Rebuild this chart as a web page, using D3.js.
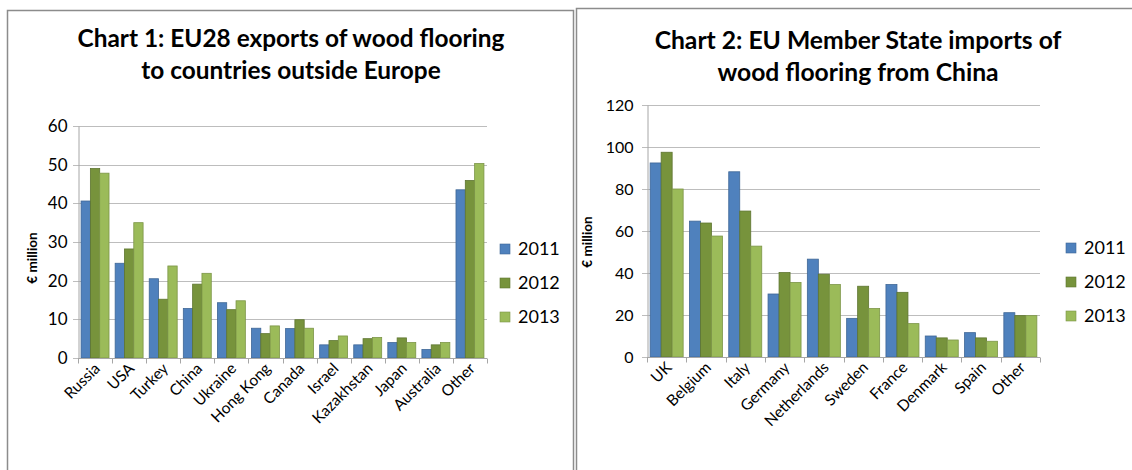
<!DOCTYPE html>
<html><head><meta charset="utf-8">
<script src="https://cdn.jsdelivr.net/npm/d3@7"></script>
<style>
html,body{margin:0;padding:0;background:#fff;}
svg{display:block;font-family:Lato,"Open Sans",sans-serif;}
</style></head>
<body>
<svg id="c" width="1132" height="470"></svg>
<script>
// ---- Data ----
const years = ["2011", "2012", "2013"];
const colors = ["#4F81BD", "#77933C", "#9BBB59"];
const strokes = ["#3f6796", "#5e7530", "#7c9547"];

const c1Title = ["Chart 1: EU28 exports of wood flooring", "to countries outside Europe"];
const c1Categories = ["Russia","USA","Turkey","China","Ukraine","Hong Kong","Canada","Israel","Kazakhstan","Japan","Australia","Other"];
const c1v2011 = [40.6, 24.5, 20.5, 12.8, 14.3, 7.7, 7.6, 3.4, 3.4, 4.0, 2.2, 43.5];
const c1v2012 = [49.0, 28.2, 15.2, 19.1, 12.5, 6.3, 9.9, 4.5, 5.0, 5.2, 3.4, 45.9];
const c1v2013 = [47.8, 35.0, 23.8, 21.9, 14.8, 8.3, 7.7, 5.7, 5.3, 4.0, 4.0, 50.3];
const c1Ticks = [0, 10, 20, 30, 40, 50, 60];

const c2Title = ["Chart 2: EU Member State imports of", "wood flooring from China"];
const c2Categories = ["UK","Belgium","Italy","Germany","Netherlands","Sweden","France","Denmark","Spain","Other"];
const c2v2011 = [92.4, 64.7, 88.2, 30.0, 46.6, 18.4, 34.5, 10.0, 11.6, 21.1];
const c2v2012 = [97.5, 63.8, 69.5, 40.2, 39.4, 33.7, 30.8, 9.1, 9.1, 19.7];
const c2v2013 = [80.0, 57.6, 52.8, 35.5, 34.5, 23.1, 15.9, 8.1, 7.5, 19.7];
const c2Ticks = [0, 20, 40, 60, 80, 100, 120];

const yLabel = "€ million";

const svg = d3.select("#c");

// frames
svg.append("path").attr("d","M7.5,471 V10.5 H573.5 V471").attr("fill","none").attr("stroke","#8c8c8c").attr("stroke-width",1.5);
svg.append("path").attr("d","M576.5,471 V8.5 H1133").attr("fill","none").attr("stroke","#8c8c8c").attr("stroke-width",1.5);

function drawChart(o){
  const g = svg.append("g");
  // title
  const t = g.append("g").attr("font-weight","bold").attr("fill","#000").attr("text-anchor","middle");
  const l1 = t.append("text").attr("x",o.titleX).attr("y",o.titleY[0]).attr("font-size",22).text(o.title[0]);
  const w = l1.node().getComputedTextLength();
  const fs = 22 * o.titleW / w;
  l1.attr("font-size",fs);
  t.append("text").attr("x",o.titleX).attr("y",o.titleY[1]).attr("font-size",fs).text(o.title[1]);

  const x0 = d3.scaleBand().domain(o.cats).range([o.x0,o.x1]).paddingInner(0).paddingOuter(0);
  const y = d3.scaleLinear().domain([0,o.max]).range([o.y0,o.y1]);
  const inner = o.groupFrac;
  const x1 = d3.scaleBand().domain(years).range([0,x0.bandwidth()*inner]).padding(0);

  // gridlines
  g.append("g").selectAll("line").data(o.ticks).join("line")
    .attr("x1",o.x0-5).attr("x2",o.x1).attr("y1",d=>Math.round(y(d))+0.5).attr("y2",d=>Math.round(y(d))+0.5)
    .attr("stroke","#bdbdbd").attr("stroke-width",1);

  // y axis
  const ya = g.append("g").attr("transform",`translate(${o.x0+0.5},0)`)
    .call(d3.axisLeft(y).tickValues(o.ticks).tickSize(0).tickPadding(o.tickPad));
  ya.select(".domain").attr("stroke","#a6a6a6");
  ya.selectAll("text").attr("font-size",o.tickFs).attr("fill","#000").attr("font-family","Lato");

  // bars
  const series = [o.v11,o.v12,o.v13];
  const off = (x0.bandwidth()*(1-inner))/2;
  series.forEach((vals,si)=>{
    g.append("g").selectAll("rect").data(o.cats).join("rect")
      .attr("x",(d)=>x0(d)+off+x1(years[si]))
      .attr("y",(d,i)=>y(vals[i]))
      .attr("width",x1.bandwidth())
      .attr("height",(d,i)=>y(0)-y(vals[i]))
      .attr("fill",colors[si]).attr("stroke",strokes[si]).attr("stroke-width",0.8);
  });

  // x axis
  const xa = g.append("g").attr("transform",`translate(0,${Math.round(y(0))+0.5})`);
  xa.append("line").attr("x1",o.x0).attr("x2",o.x1).attr("stroke","#a6a6a6");
  const bounds = o.cats.map(c=>x0(c)).concat([o.x1]);
  xa.selectAll("line.tk").data(bounds).join("line").attr("class","tk")
    .attr("x1",d=>Math.round(d)+0.5).attr("x2",d=>Math.round(d)+0.5).attr("y1",0).attr("y2",5).attr("stroke","#a6a6a6");
  xa.selectAll("text").data(o.cats).join("text")
    .attr("transform",d=>`translate(${x0(d)+x0.bandwidth()/2+o.lblDx},${o.lblDy}) rotate(-45)`)
    .attr("text-anchor","end").attr("font-size",o.catFs).attr("fill","#000").text(d=>d);

  // y label
  g.append("text").attr("transform",`translate(${o.ylX},${o.ylY}) rotate(-90)`)
    .attr("text-anchor","middle").attr("font-weight","bold").attr("font-size",13.5).text(yLabel);

  // legend
  const lg = g.append("g");
  years.forEach((yr,i)=>{
    lg.append("rect").attr("x",o.legX).attr("y",o.legY[i]-5).attr("width",10).attr("height",10)
      .attr("fill",colors[i]).attr("stroke",strokes[i]).attr("stroke-width",0.6);
    lg.append("text").attr("x",o.legX+18).attr("y",o.legY[i]).attr("dy","0.36em")
      .attr("font-size",o.legFs).attr("fill","#000").text(yr);
  });
}

drawChart({
  title:c1Title, titleX:291, titleY:[47,79], titleW:427,
  cats:c1Categories, v11:c1v2011, v12:c1v2012, v13:c1v2013, ticks:c1Ticks, max:60,
  x0:78, x1:487, y0:358, y1:126, groupFrac:0.82, tickPad:11, tickFs:17,
  catFs:15.5, lblDx:6, lblDy:11, ylX:37, ylY:258,
  legX:500, legY:[249,283,317], legFs:18
});
drawChart({
  title:c2Title, titleX:858, titleY:[49,81], titleW:407,
  cats:c2Categories, v11:c2v2011, v12:c2v2012, v13:c2v2013, ticks:c2Ticks, max:120,
  x0:647, x1:1040, y0:357, y1:105, groupFrac:0.84, tickPad:14, tickFs:16,
  catFs:15.5, lblDx:6, lblDy:11, ylX:592, ylY:242,
  legX:1066, legY:[248,282,316], legFs:18
});
</script>
</body></html>
